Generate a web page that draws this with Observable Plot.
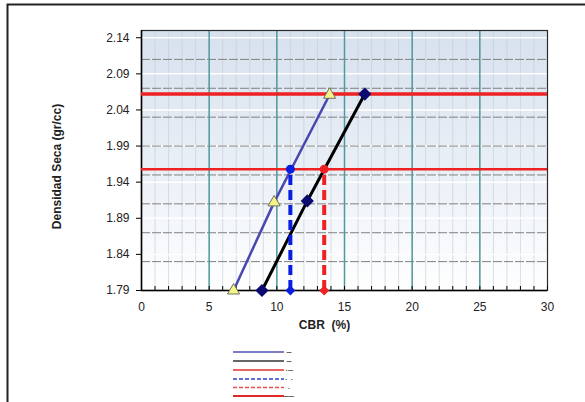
<!DOCTYPE html>
<html><head><meta charset="utf-8">
<script src="https://cdn.jsdelivr.net/npm/d3@7"></script>
<script src="https://cdn.jsdelivr.net/npm/@observablehq/plot@0.6"></script>
<style>
body{margin:0;background:#fff;}
#chart{position:relative;width:585px;height:402px;overflow:hidden;}
</style>
</head><body><div id="chart"></div>
<script>
// Series 1 (slate blue line, triangle markers)
const cbrSeries1 = [6.8, 9.8, 13.9];
const densSeries1 = [1.79, 1.912, 2.061];
// Series 2 (black line, diamond markers)
const cbrSeries2 = [8.9, 12.25, 16.5];
const densSeries2 = [1.79, 1.914, 2.062];
// Reference densities
const maxDensity = 2.062;
const density95 = 1.958;
// CBR at 95%
const cbr95Series1 = 11.0;
const cbr95Series2 = 13.5;
// Ticks / grid
const yTickValues = [1.79, 1.84, 1.89, 1.94, 1.99, 2.04, 2.09, 2.14];
const yGridValues = [1.83, 1.87, 1.91, 1.95, 1.99, 2.03, 2.07, 2.11];
const xTickValues = [0, 5, 10, 15, 20, 25, 30];
const xMajorGrid = [5, 10, 15, 20, 25];
const xMinorValues = [0,1,2,3,4,5,6,7,8,9,10,11,12,13,14,15,16,17,18,19,20,21,22,23,24,25,26,27,28,29,30];
// Legend
const legendLabels = ["–", "–", "·–", "· ·", "·", "––"];
const legendColors = ["#5050b0", "#333333", "#e53030", "#2f3fd0", "#e85050", "#e02828"];
const legendDashes = [null, null, null, "4,2", "4,2", null];

const s1 = cbrSeries1.map((c, i) => ({cbr: c, dens: densSeries1[i]}));
const s2 = cbrSeries2.map((c, i) => ({cbr: c, dens: densSeries2[i]}));

const font = "'Liberation Sans', Arial, Helvetica, sans-serif";

const chart = Plot.plot({
  width: 585, height: 402,
  marginLeft: 141, marginRight: 38, marginTop: 30, marginBottom: 112,
  x: {domain: [0, 30]},
  y: {domain: [1.79, 2.15]},
  style: {fontFamily: font, fontSize: "12px", color: "#222", background: "transparent", overflow: "visible"},
  marks: [
    Plot.frame({fill: "url(#bgGrad)", stroke: null}),
    Plot.ruleX(xMinorValues, {stroke: "#c3cad4", strokeOpacity: 0.6, strokeWidth: 1}),
    Plot.ruleY(yTickValues, {stroke: "#ffffff", strokeWidth: 1.5}),
    Plot.ruleY(yGridValues, {stroke: "#808080", strokeWidth: 1, strokeDasharray: "9,2"}),
    Plot.ruleX(xMajorGrid, {stroke: "#4f9a9c", strokeWidth: 1.5}),
    Plot.frame({stroke: "#2a2a2a", strokeWidth: 1.2}),
    Plot.ruleY([1.79], {stroke: "#000", strokeWidth: 1.5}),
    Plot.ruleX([0], {stroke: "#000", strokeWidth: 1.5}),
    Plot.tickX(xMinorValues, {insetTop: 256, stroke: "#000", strokeWidth: 1}),
    Plot.ruleY([maxDensity], {stroke: "#ee2222", strokeWidth: 3.5}),
    Plot.ruleY([density95], {stroke: "#ee2222", strokeWidth: 2.5}),
    Plot.line(s1, {x: "cbr", y: "dens", stroke: "#4848b0", strokeWidth: 2.5}),
    Plot.line(s2, {x: "cbr", y: "dens", stroke: "#000000", strokeWidth: 3}),
    Plot.ruleX([cbr95Series1], {y1: 1.79, y2: density95, stroke: "#0a1ee0", strokeWidth: 4, strokeDasharray: "10,5"}),
    Plot.ruleX([cbr95Series2], {y1: 1.79, y2: density95, stroke: "#ee2222", strokeWidth: 4, strokeDasharray: "10,5"}),
    Plot.dot(s1, {x: "cbr", y: "dens", symbol: "triangle", r: 4.5, fill: "#f4f48a", stroke: "#707060", strokeWidth: 1}),
    Plot.dot(s2, {x: "cbr", y: "dens", symbol: "diamond2", r: 5, fill: "#0a0a70", stroke: "#0a0a70"}),
    Plot.dot([{cbr: cbr95Series1, dens: density95}], {x: "cbr", y: "dens", symbol: "circle", r: 4.5, fill: "#0a1ee0"}),
    Plot.dot([{cbr: cbr95Series1, dens: 1.79}], {x: "cbr", y: "dens", symbol: "diamond2", r: 4.5, fill: "#0a1ee0"}),
    Plot.dot([{cbr: cbr95Series2, dens: density95}], {x: "cbr", y: "dens", symbol: "circle", r: 4.5, fill: "#ee2222"}),
    Plot.dot([{cbr: cbr95Series2, dens: 1.79}], {x: "cbr", y: "dens", symbol: "diamond2", r: 4.5, fill: "#ee2222"}),
    Plot.axisY(yTickValues, {tickSize: 5, tickPadding: 7, tickFormat: d => d.toFixed(2), label: null, fontSize: 12, stroke: "#000"}),
    Plot.axisX(xTickValues, {tickSize: 0, tickPadding: 12, label: null, fontSize: 12}),
    Plot.text(["CBR\u00a0 (%)"], {frameAnchor: "bottom", dx: -20, dy: 38, fontWeight: "bold", fontSize: 12, fill: "#222"}),
    Plot.text(["Densidad Seca (gr/cc)"], {frameAnchor: "left", textAnchor: "middle", dx: -84, dy: 6, rotate: -90, fontWeight: "bold", fontSize: 12, fill: "#222"})
  ]
});

const svg = d3.select(chart);
const defs = svg.insert("defs", ":first-child");
const grad = defs.append("linearGradient").attr("id", "bgGrad").attr("x1", 0).attr("y1", 0).attr("x2", 0).attr("y2", 1);
grad.append("stop").attr("offset", "0%").attr("stop-color", "#d7e1ee");
grad.append("stop").attr("offset", "55%").attr("stop-color", "#ebf0f7");
grad.append("stop").attr("offset", "100%").attr("stop-color", "#ffffff");

// outer frame
svg.append("rect").attr("x", 7.5).attr("y", 4.5).attr("width", 700).attr("height", 600)
  .attr("fill", "none").attr("stroke", "#222").attr("stroke-width", 2);

// legend
const legendY = [352, 361, 370, 379, 387.5, 396];
const lg = svg.append("g");
legendLabels.forEach((lab, i) => {
  lg.append("line").attr("x1", 233).attr("x2", 284).attr("y1", legendY[i]).attr("y2", legendY[i])
    .attr("stroke", legendColors[i]).attr("stroke-width", i === 5 ? 2 : 1.6)
    .attr("stroke-dasharray", legendDashes[i]);
  lg.append("text").attr("x", 289).attr("y", legendY[i] + 3).attr("font-size", 9)
    .attr("font-family", font).attr("fill", "#222").text(lab);
});

document.getElementById("chart").appendChild(chart);
</script>
</body></html>
